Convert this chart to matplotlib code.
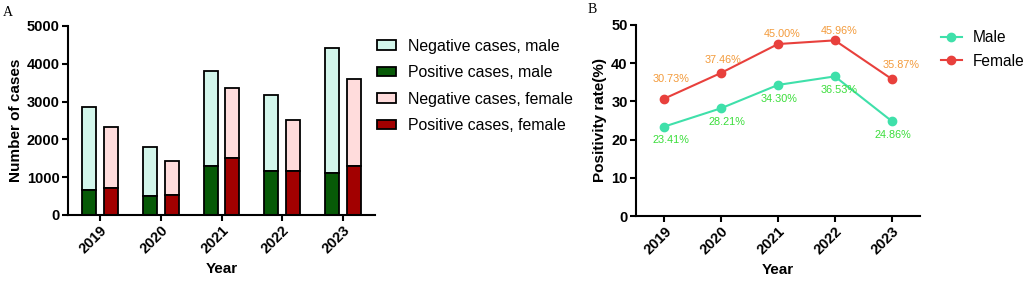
import matplotlib
matplotlib.use("Agg")
import matplotlib.pyplot as plt
import numpy as np

plt.rcParams['font.family'] = ['Liberation Sans', 'DejaVu Sans']

years = ['2019', '2020', '2021', '2022', '2023']

# panel A: case counts
male_pos = [670, 510, 1300, 1160, 1100]
male_neg = [2200, 1300, 2500, 2020, 3330]
female_pos = [715, 530, 1505, 1155, 1290]
female_neg = [1615, 890, 1845, 1355, 2320]

# panel B: positivity rate (%)
rate_male = [23.41, 28.21, 34.30, 36.53, 24.86]
rate_female = [30.73, 37.46, 45.00, 45.96, 35.87]

# colours
c_neg_m = '#d3f6eb'
c_pos_m = '#075a07'
c_neg_f = '#ffdcdc'
c_pos_f = '#a20000'
c_line_m = '#3fe0aa'
c_line_f = '#e8403c'
c_lab_m = '#3ade3a'
c_lab_f = '#f39a3a'

fig = plt.figure(figsize=(10.26, 2.81), dpi=100)


def style_axes(ax):
    for s in ['top', 'right']:
        ax.spines[s].set_visible(False)
    for s in ['left', 'bottom']:
        ax.spines[s].set_linewidth(1.5)
    ax.tick_params(direction='out', length=4, width=1.5, labelsize=10.5, pad=2)
    for lab in ax.get_yticklabels():
        lab.set_fontweight('bold')
    for lab in ax.get_xticklabels():
        lab.set_fontweight('bold')
        lab.set_rotation(45)
        lab.set_ha('right')
        lab.set_rotation_mode('anchor')


# ---------------- panel A
axA = fig.add_axes([0.0663, 0.2349, 0.2992, 0.6726])
x = np.arange(len(years))
w = 0.23
off = 0.18
hA = []
hA.append(axA.bar(x - off, male_neg, w, bottom=male_pos, color=c_neg_m,
                  edgecolor='black', lw=1.3, label='Negative cases, male'))
hA.append(axA.bar(x - off, male_pos, w, color=c_pos_m,
                  edgecolor='black', lw=1.3, label='Positive cases, male'))
hA.append(axA.bar(x + off, female_neg, w, bottom=female_pos, color=c_neg_f,
                  edgecolor='black', lw=1.3, label='Negative cases, female'))
hA.append(axA.bar(x + off, female_pos, w, color=c_pos_f,
                  edgecolor='black', lw=1.3, label='Positive cases, female'))
axA.set_xlim(-0.53, 4.53)
axA.set_ylim(0, 5000)
axA.set_yticks(range(0, 5001, 1000))
axA.set_xticks(x)
axA.set_xticklabels(years)
axA.set_ylabel('Number of cases', fontsize=11, fontweight='bold', labelpad=3)
axA.set_xlabel('Year', fontsize=11, fontweight='bold', labelpad=4)
style_axes(axA)

fig.legend(handles=hA, loc='upper left', bbox_to_anchor=(0.367, 0.862),
           frameon=False, fontsize=11.4, handlelength=1.25, handleheight=0.55,
           handletextpad=0.75, labelspacing=0.72, borderpad=0, borderaxespad=0)

# ---------------- panel B
axB = fig.add_axes([0.6199, 0.2313, 0.2768, 0.680])
lm, = axB.plot(x, rate_male, '-o', color=c_line_m, lw=1.5, ms=6, label='Male')
lf, = axB.plot(x, rate_female, '-o', color=c_line_f, lw=1.5, ms=6, label='Female')
axB.set_xlim(-0.5, 4.5)
axB.set_ylim(0, 50)
axB.set_yticks(range(0, 51, 10))
axB.set_xticks(x)
axB.set_xticklabels(years)
axB.set_ylabel('Positivity rate(%)', fontsize=11, fontweight='bold', labelpad=3)
axB.set_xlabel('Year', fontsize=11, fontweight='bold', labelpad=4)
style_axes(axB)

off_f = [(5, 14), (1, 9), (3, 7), (3, 7), (7, 10)]
off_m = [(5, -10), (4, -10), (1, -10), (3, -10), (1, -10)]
for i in range(len(years)):
    axB.annotate(f'{rate_female[i]:.2f}%', (x[i], rate_female[i]),
                 xytext=off_f[i], textcoords='offset points', ha='center',
                 va='center', fontsize=7.8, color=c_lab_f)
    axB.annotate(f'{rate_male[i]:.2f}%', (x[i], rate_male[i]),
                 xytext=off_m[i], textcoords='offset points', ha='center',
                 va='center', fontsize=7.8, color=c_lab_m)

fig.legend(handles=[lm, lf], loc='upper left', bbox_to_anchor=(0.917, 0.893),
           frameon=False, fontsize=11.2, handlelength=1.35,
           handletextpad=0.7, labelspacing=0.55, borderpad=0, borderaxespad=0)

fig.text(0.003, 0.955, 'A', family='Liberation Serif', fontsize=10, va='center')
fig.text(0.573, 0.965, 'B', family='Liberation Serif', fontsize=10, va='center')

fig.savefig('out.png', dpi=100)
